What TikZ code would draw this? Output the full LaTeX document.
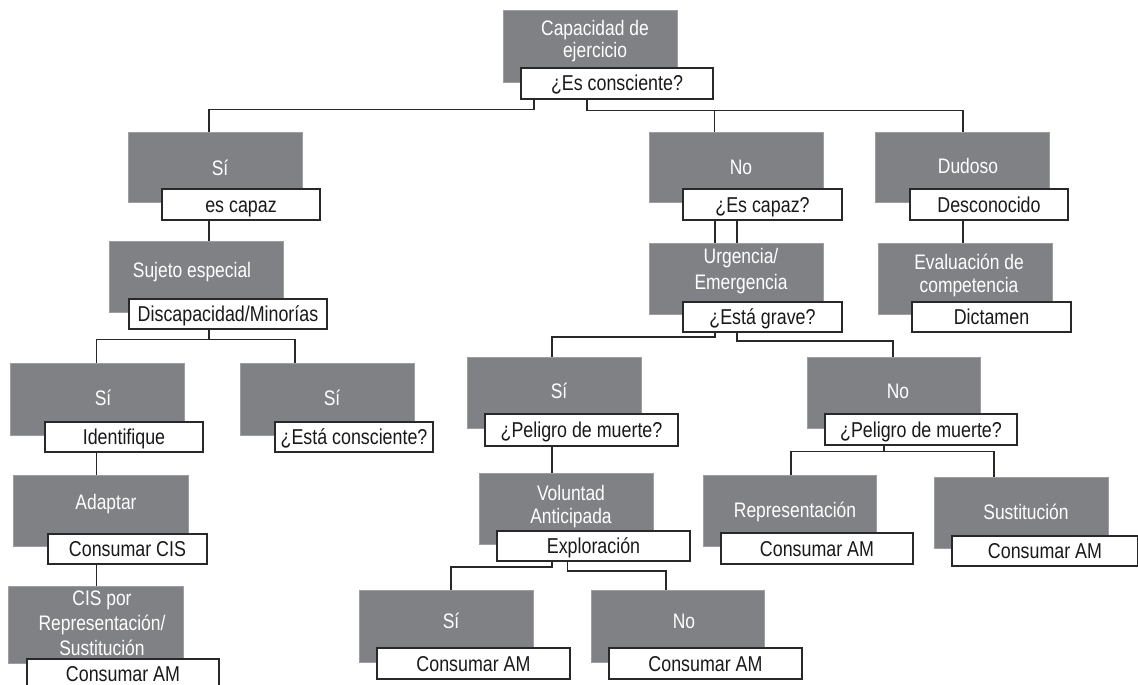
\documentclass[tikz,border=0pt]{standalone}
\usepackage{fontspec}
\setmainfont{Liberation Sans}[FakeStretch=0.83]
\definecolor{boxgray}{RGB}{128,129,133}
\definecolor{edgegray}{RGB}{158,158,160}
\definecolor{ink}{RGB}{40,40,40}
\newcommand\gbx[5]{\node[gbox, minimum width={#3-#2}, minimum height={#5-#4}] (#1) at ({(#2+#3)/2},{(#4+#5)/2}) {};}
\newcommand\wbx[6]{\node[wbox, minimum width={#3-#2}, minimum height={#5-#4}] (#1) at ({(#2+#3)/2},{(#4+#5)/2}) {#6};}
\begin{document}
\begin{tikzpicture}[x=1pt,y=-1pt,
  gbox/.style={draw=edgegray, line width=0.8pt, fill=boxgray, inner sep=0pt, rectangle},
  wbox/.style={draw=ink, line width=1.2pt, fill=white, inner sep=0pt, rectangle,
    font=\fontsize{21.5}{25}\selectfont, text=black!90, text height=15pt, text depth=0pt},
  gtxt/.style={inner sep=0pt, text=white, font=\fontsize{21}{24}\selectfont, align=center},
  gone/.style={gtxt, anchor=base},
  gmulti/.style={gtxt, anchor=north},
  conn/.style={draw=ink, line width=1.2pt}]
\useasboundingbox (0,0) rectangle (1138,685);

% gray boxes
\gbx{g1}{503}{677}{10}{82}
\gbx{g2}{128}{302}{132}{202}
\gbx{g3}{649}{823}{132}{202}
\gbx{g4}{875}{1049}{132}{202}
\gbx{g5}{109}{283}{241}{312}
\gbx{g6}{649}{823}{243}{314}
\gbx{g7}{878}{1052}{243}{314}
\gbx{g8}{10}{184}{363}{435}
\gbx{g9}{240}{414}{363}{435}
\gbx{g10}{467}{641}{357}{428}
\gbx{g11}{807}{980}{357}{428}
\gbx{g12}{13}{188}{475}{546}
\gbx{g13}{8}{183}{586}{663}
\gbx{g14}{479}{653}{473}{544}
\gbx{g15}{703}{876}{475}{546}
\gbx{g16}{934}{1108}{477}{548}
\gbx{g17}{359}{533}{590}{662}
\gbx{g18}{591}{764}{590}{662}

% texts on gray boxes
\node[gmulti, font=\fontsize{21}{22.5}\selectfont] (t1) at (595,20) {Capacidad de\\ejercicio};
\node[gone] (t2) at (220,175) {Sí};
\node[gone] (t3) at (741,174) {No};
\node[gone] (t4) at (968,173) {Dudoso};
\node[gone] (t5) at (192,277) {Sujeto especial};
\node[gmulti, font=\fontsize{21}{26}\selectfont] (t6) at (741,248) {Urgencia/\\Emergencia};
\node[gmulti, font=\fontsize{21}{23}\selectfont] (t7) at (969,254) {Evaluación de\\competencia};
\node[gone] (t8) at (103,405) {Sí};
\node[gone] (t9) at (332,405) {Sí};
\node[gone] (t10) at (559,398) {Sí};
\node[gone] (t11) at (898,398) {No};
\node[gone] (t12) at (106,509) {Adaptar};
\node[gmulti, font=\fontsize{21}{25}\selectfont] (t13) at (102,591) {CIS por\\Representación/\\Sustitución};
\node[gmulti, font=\fontsize{21}{23.5}\selectfont] (t14) at (571,485) {Voluntad\\Anticipada};
\node[gone] (t15) at (795,517) {Representación};
\node[gone] (t16) at (1026,519) {Sustitución};
\node[gone] (t17) at (451,628) {Sí};
\node[gone] (t18) at (684,628) {No};

% white boxes
\wbx{w1}{521}{713}{68}{99}{¿Es consciente?}
\wbx{w2}{162}{320}{189}{220}{es capaz}
\wbx{w3}{683}{842}{189}{220}{¿Es capaz?}
\wbx{w4}{910}{1068}{189}{220}{Desconocido}
\wbx{w5}{129}{327}{299}{329}{Discapacidad/Minorías}
\wbx{w6}{683}{842}{302}{332}{¿Está grave?}
\wbx{w7}{912}{1071}{302}{332}{Dictamen}
\wbx{w8}{45}{203}{422}{452}{Identifique}
\wbx{w9}{275}{433}{422}{452}{¿Está consciente?}
\wbx{w10}{485}{678}{414}{446}{¿Peligro de muerte?}
\wbx{w11}{825}{1017}{414}{445}{¿Peligro de muerte?}
\wbx{w12}{48}{207}{534}{564}{Consumar CIS}
\wbx{w13}{27}{219}{659}{688}{Consumar AM}
\wbx{w14}{497}{690}{531}{561}{Exploración}
\wbx{w15}{721}{913}{533}{564}{Consumar AM}
\wbx{w16}{952}{1138}{536}{566}{Consumar AM}
\wbx{w17}{377}{570}{648}{679}{Consumar AM}
\wbx{w18}{609}{802}{648}{679}{Consumar AM}

% connectors
\draw[conn] (534,0 |- w1.south) -- (534,109.5) -| (209,0 |- g2.north);
\draw[conn] (587,0 |- w1.south) -- (587,110.5) -| (963,0 |- g4.north);
\draw[conn] (714.5,110.5) -- (714.5,0 |- g3.north);
\draw[conn] (209,0 |- w2.south) -- (209,0 |- g5.north);
\draw[conn] (715,0 |- w3.south) -- (715,0 |- g6.north);
\draw[conn] (737,0 |- w3.south) -- (737,0 |- g6.north);
\draw[conn] (963,0 |- w4.south) -- (963,0 |- g7.north);
\draw[conn] (209,0 |- w5.south) -- (209,339.5);
\draw[conn] (96.5,0 |- g8.north) |- (295,339.5) -- (295,0 |- g9.north);
\draw[conn] (715,0 |- w6.south) -- (715,337) -| (552,0 |- g10.north);
\draw[conn] (737,0 |- w6.south) -- (737,341) -| (893,0 |- g11.north);
\draw[conn] (96.5,0 |- w8.south) -- (96.5,0 |- g12.north);
\draw[conn] (96.5,0 |- w12.south) -- (96.5,0 |- g13.north);
\draw[conn] (552,0 |- w10.south) -- (552,0 |- g14.north);
\draw[conn] (884,0 |- w11.south) -- (884,451.5);
\draw[conn] (791,0 |- g15.north) |- (994,451.5) -- (994,0 |- g16.north);
\draw[conn] (552,0 |- w14.south) -- (552,567) -| (451,0 |- g17.north);
\draw[conn] (567.5,0 |- w14.south) -- (567.5,571) -| (666,0 |- g18.north);
\end{tikzpicture}
\end{document}
